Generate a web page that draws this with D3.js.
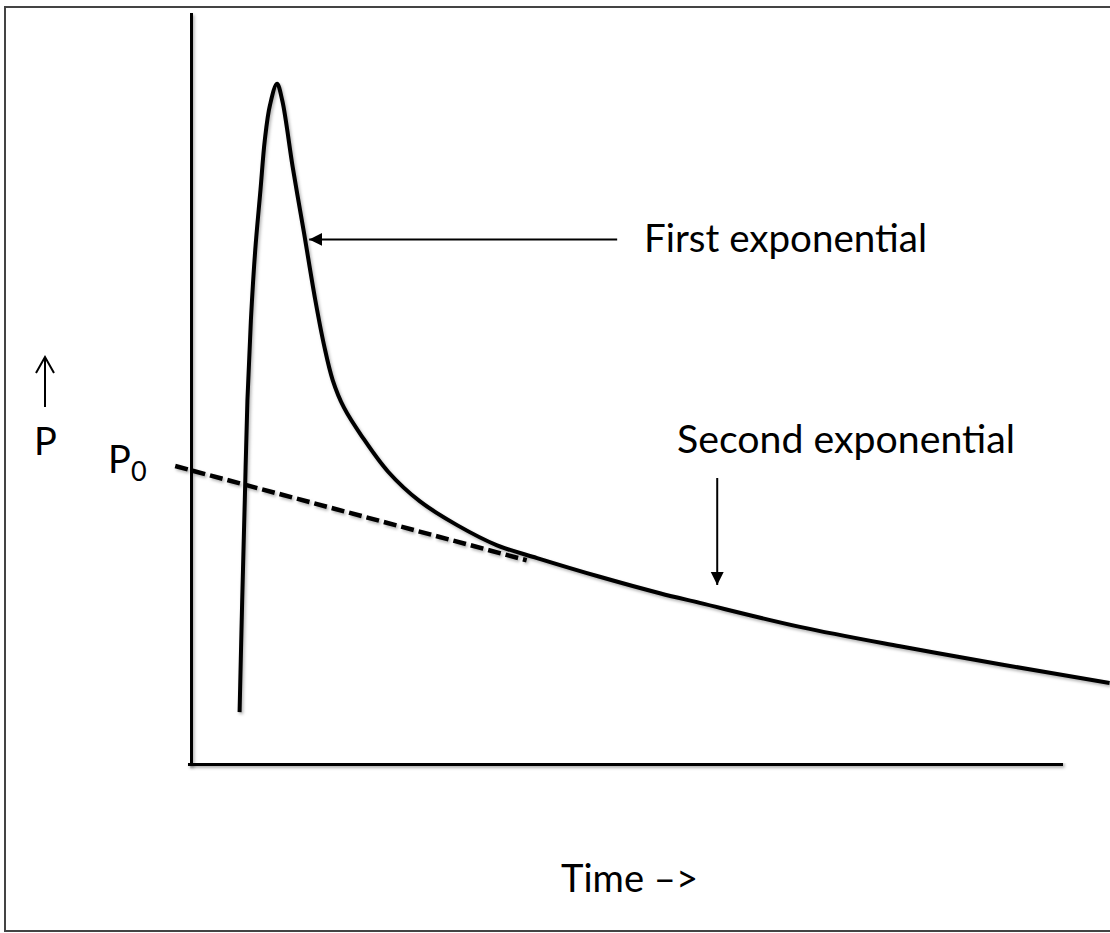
<!DOCTYPE html>
<html>
<head>
<meta charset="utf-8">
<script src="https://cdn.jsdelivr.net/npm/d3@7"></script>
<style>
  html, body { margin: 0; padding: 0; background: #fff; }
  svg { display: block; }
  .label { font-family: Lato, "Open Sans", sans-serif; fill: #000; }
</style>
</head>
<body>
<div class="page-content"></div>
<script>
// values, in axis units (time 0..10, P 0..10)
var curveTime = [0.57, 0.60, 0.63, 0.66, 0.70, 0.75, 0.81, 0.86, 0.92, 1.00,
                 1.06, 1.18, 1.31, 1.44, 1.54, 1.64, 1.77, 1.98, 2.28, 2.64,
                 3.07, 3.53, 3.99, 4.71, 5.40, 5.86, 7.01, 8.16, 9.31, 10.57];
var curveP    = [0.68, 2.18, 3.52, 4.85, 5.92, 6.86, 7.66, 8.33, 8.80, 9.08,
                 8.86, 7.97, 7.09, 6.19, 5.59, 5.12, 4.75, 4.36, 3.89, 3.50,
                 3.18, 2.91, 2.74, 2.49, 2.27, 2.14, 1.82, 1.56, 1.32, 1.07];

// back-extrapolated second exponential (dashed), meets the P axis at P0
var extrapTime = [-0.17, 3.87];
var extrapP    = [3.97, 2.71];

// annotation arrows: [fromTime, fromP, toTime, toP]
var annotationArrows = [
  [4.91, 7.00, 1.37, 7.00],   // first exponential
  [6.06, 3.81, 6.06, 2.38]    // second exponential
];

var annotationLabels = ["First exponential", "Second exponential"];
var axisLabels = ["Time \u2013>", "P", "P", "0"];

document.addEventListener('DOMContentLoaded', drawChart, false);

function drawChart() {
  var width = 1110,
      height = 933;

  var svg = d3.select(".page-content").append("svg")
      .attr("width", width)
      .attr("height", height);

  var defs = svg.append("defs");

  // soft shadow like the office drawing (user space so flat lines keep it)
  defs.append("filter")
      .attr("id", "shadow")
      .attr("filterUnits", "userSpaceOnUse")
      .attr("x", 0).attr("y", 0)
      .attr("width", width).attr("height", height)
    .append("feDropShadow")
      .attr("dx", 1.5)
      .attr("dy", 2)
      .attr("stdDeviation", 1.5)
      .attr("flood-color", "#000")
      .attr("flood-opacity", 0.3);

  defs.append("marker")
      .attr("id", "head")
      .attr("markerUnits", "userSpaceOnUse")
      .attr("viewBox", "0 0 14 14")
      .attr("markerWidth", 14)
      .attr("markerHeight", 14)
      .attr("refX", 13)
      .attr("refY", 7)
      .attr("orient", "auto")
    .append("path")
      .attr("d", "M0,0.5L13,7L0,13.5Z")
      .attr("fill", "#000");

  // frame round the picture
  svg.append("rect")
      .attr("x", 5)
      .attr("y", 7)
      .attr("width", 1110)
      .attr("height", 924)
      .attr("fill", "none")
      .attr("stroke", "#444")
      .attr("stroke-width", 2);

  var x = d3.scaleLinear().domain([0, 10]).range([190, 1060]);
  var y = d3.scaleLinear().domain([0, 10]).range([763, 15]);

  // axes: bare lines, no ticks
  svg.append("g")
      .attr("transform", "translate(0," + y(0) + ")")
      .call(d3.axisBottom(x).ticks(0).tickSizeOuter(0));
  svg.append("g")
      .attr("transform", "translate(" + x(0) + ",0)")
      .call(d3.axisLeft(y).ticks(0).tickSizeOuter(0));

  svg.selectAll(".domain")
      .attr("stroke", "#000")
      .attr("stroke-width", 5)
      .attr("stroke-linecap", "square")
      .attr("filter", "url(#shadow)");

  // dashed extrapolation
  var extrap = d3.zip(extrapTime, extrapP);
  svg.append("path")
      .datum(extrap)
      .attr("fill", "none")
      .attr("stroke", "#000")
      .attr("stroke-width", 4.5)
      .attr("stroke-dasharray", "13,5")
      .attr("filter", "url(#shadow)")
      .attr("d", d3.line()
          .x(function(d) { return x(d[0]); })
          .y(function(d) { return y(d[1]); }));

  // concentration curve
  var pts = d3.zip(curveTime, curveP);
  svg.append("path")
      .datum(pts)
      .attr("fill", "none")
      .attr("stroke", "#000")
      .attr("stroke-width", 4)
      .attr("stroke-linejoin", "round")
      .attr("filter", "url(#shadow)")
      .attr("d", d3.line()
          .curve(d3.curveCatmullRom.alpha(0.5))
          .x(function(d) { return x(d[0]); })
          .y(function(d) { return y(d[1]); }));

  // annotation arrows
  svg.selectAll(".note-arrow")
      .data(annotationArrows)
    .enter().append("line")
      .attr("class", "note-arrow")
      .attr("x1", function(d) { return x(d[0]); })
      .attr("y1", function(d) { return y(d[1]); })
      .attr("x2", function(d) { return x(d[2]); })
      .attr("y2", function(d) { return y(d[3]); })
      .attr("stroke", "#000")
      .attr("stroke-width", 2)
      .attr("marker-end", "url(#head)");

  // labels
  var labelPos = [
    {x: 644, y: 252, len: 283},
    {x: 677, y: 453, len: 338}
  ];
  svg.selectAll(".note")
      .data(annotationLabels)
    .enter().append("text")
      .attr("class", "label note")
      .attr("x", function(d, i) { return labelPos[i].x; })
      .attr("y", function(d, i) { return labelPos[i].y; })
      .attr("textLength", function(d, i) { return labelPos[i].len; })
      .attr("lengthAdjust", "spacingAndGlyphs")
      .style("font-size", "38px")
      .text(function(d) { return d; });

  svg.append("text")
      .attr("class", "label")
      .attr("x", 561)
      .attr("y", 892)
      .attr("textLength", 137)
      .attr("lengthAdjust", "spacingAndGlyphs")
      .style("font-size", "38px")
      .text(axisLabels[0]);

  // P with upward arrow
  svg.append("text")
      .attr("class", "label")
      .attr("x", 34)
      .attr("y", 455)
      .style("font-size", "38px")
      .text(axisLabels[1]);

  svg.append("path")
      .attr("d", "M45,407V358M36,373L45,357L54,373")
      .attr("fill", "none")
      .attr("stroke", "#000")
      .attr("stroke-width", 2);

  // P0 at the intercept
  svg.append("text")
      .attr("class", "label")
      .attr("x", 108)
      .attr("y", 473)
      .style("font-size", "38px")
      .text(axisLabels[2]);
  svg.append("text")
      .attr("class", "label")
      .attr("x", 131)
      .attr("y", 481)
      .style("font-size", "27px")
      .text(axisLabels[3]);
}
</script>
</body>
</html>
